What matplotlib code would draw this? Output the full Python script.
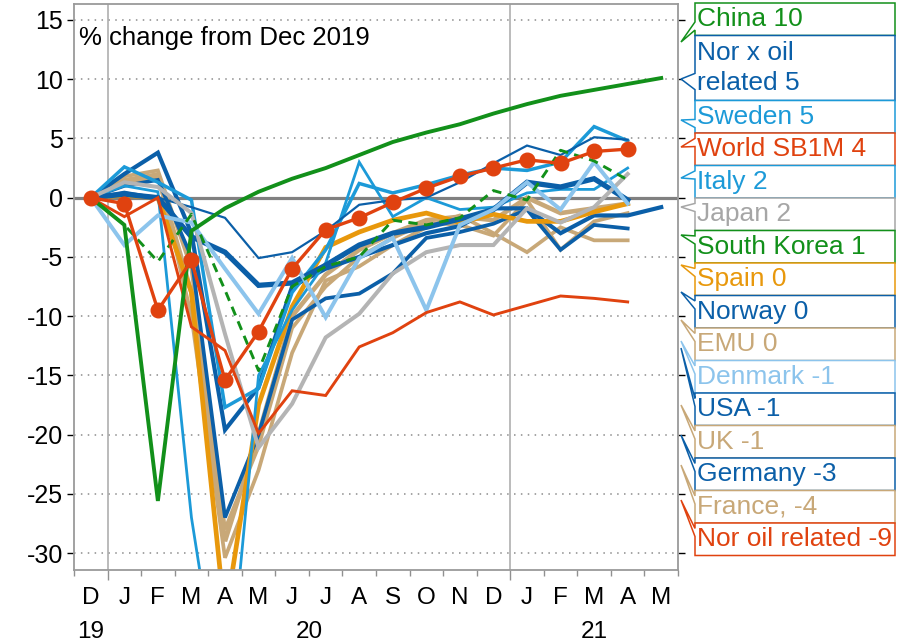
import numpy as np
import matplotlib
matplotlib.use("Agg")
from matplotlib import pyplot as plt
from matplotlib.patches import Polygon
from matplotlib.transforms import Affine2D, blended_transform_factory

plt.rcParams['font.family'] = ['Liberation Sans', 'DejaVu Sans']
plt.rcParams['axes.unicode_minus'] = False

# months from Dec 2019 to May 2021
months = ['D', 'J', 'F', 'M', 'A', 'M', 'J', 'J', 'A', 'S', 'O', 'N', 'D',
          'J', 'F', 'M', 'A', 'M']
years = ['19', '20', '21']
year_centres = [0, 6.5, 15]

# % change from Dec 2019
china = [0, -2.3, -25.6, -2.8, -0.9, 0.5, 1.6, 2.5, 3.6, 4.7, 5.5, 6.2, 7.1, 7.9, 8.6, 9.1, 9.6, 10.1]
nor_x_oil = [0, 0.5, 0.0, -0.8, -1.7, -5.1, -4.6, -2.8, -0.6, -0.2, 0.0, 1.3, 2.9, 4.4, 3.6, 5.1, 4.9]
sweden = [0, 2.6, 1.3, -0.2, -17.7, -16.1, -8.0, -4.4, 1.2, 0.4, 1.1, 1.9, 2.5, 2.3, 3.0, 6.0, 4.8]
world = [0, -0.5, -9.5, -5.3, -15.4, -11.3, -6.0, -2.7, -1.7, -0.4, 0.8, 1.8, 2.5, 3.2, 2.9, 3.9, 4.1]
italy = [0, 1.0, 0.5, -27.0, -45.0, -15.0, -9.5, -5.5, 3.0, -1.6, 0.0, -1.0, -0.8, 0.4, 0.7, 0.7, 2.5]
japan = [0, 1.3, 0.9, -1.3, -11.5, -21.1, -17.4, -11.8, -9.8, -6.4, -4.6, -4.0, -4.0, -0.9, -2.1, -0.8, 2.0]
s_korea = [0, -2.3, -5.4, -1.4, -7.8, -14.6, -7.5, -5.8, -5.0, -1.9, -2.3, -1.7, 0.6, -0.2, 4.0, 3.1, 1.5]
spain = [0, 0.2, 0.0, -8.0, -35.5, -17.5, -9.2, -4.2, -2.9, -1.9, -1.3, -2.1, -1.4, -2.0, -2.0, -1.2, -0.5]
norway = [0, 0.3, 0.0, -3.3, -4.6, -7.4, -7.2, -5.7, -4.0, -3.0, -2.5, -1.8, -1.0, 1.3, 0.9, 1.6, -0.2]
emu = [0, 1.2, 1.8, -8.0, -29.0, -20.0, -10.0, -6.5, -4.4, -3.0, -1.9, -1.6, -1.9, 0.0, -1.3, -0.9, -0.5]
denmark = [0, -4.0, -1.5, -2.1, -6.0, -9.8, -5.1, -10.1, -5.1, -3.4, -9.5, -2.3, -1.0, 1.3, -1.0, 3.0, -0.5]
usa = [0, 2.0, 3.8, -3.0, -19.6, -16.0, -7.5, -6.0, -5.0, -4.0, -3.0, -2.4, -0.9, -0.9, -3.0, -1.5, -1.5, -0.8]
uk = [0, 1.8, 2.3, -6.0, -28.0, -21.0, -11.0, -7.5, -5.0, -3.4, -2.1, -2.3, -3.2, -0.2, -4.4, -2.0, -1.3]
germany = [0, 1.0, 1.5, -5.0, -27.0, -20.0, -10.3, -8.5, -8.1, -6.4, -3.4, -2.9, -2.2, -1.0, -4.4, -2.3, -2.6]
france = [0, 1.5, 2.0, -10.0, -30.4, -23.0, -13.1, -7.0, -5.8, -4.0, -2.5, -1.5, -3.0, -4.6, -2.5, -3.6, -3.6]
nor_oil = [0, -1.6, 0.0, -10.9, -12.9, -19.9, -16.3, -16.7, -12.6, -11.4, -9.7, -8.8, -9.9, -9.1, -8.3, -8.5, -8.8]

GREEN = '#12901a'
DBLUE = '#0b5fa8'
LBLUE = '#1c9ad8'
VLBLUE = '#8cc4ec'
RED = '#e0420f'
ORANGE = '#e8980c'
TAN = '#c8a878'
GREY = '#b4b4b4'

# (series, colour, linewidth, dashed) in drawing order
lines = [
    (france, TAN, 2.7, False),
    (uk, TAN, 2.7, False),
    (emu, TAN, 3.3, False),
    (germany, DBLUE, 2.7, False),
    (usa, DBLUE, 3.0, False),
    (spain, ORANGE, 3.4, False),
    (italy, LBLUE, 2.0, False),
    (sweden, LBLUE, 2.5, False),
    (norway, DBLUE, 3.8, False),
    (nor_x_oil, DBLUE, 1.6, False),
    (japan, GREY, 2.9, False),
    (denmark, VLBLUE, 2.9, False),
    (s_korea, GREEN, 2.1, True),
    (nor_oil, RED, 2.1, False),
    (china, GREEN, 2.8, False),
]

# labels on the right, top to bottom
labels = ['China 10', 'Nor x oil\nrelated 5', 'Sweden 5', 'World SB1M 4', 'Italy 2',
          'Japan 2', 'South Korea 1', 'Spain 0', 'Norway 0', 'EMU 0', 'Denmark -1',
          'USA -1', 'UK -1', 'Germany -3', 'France, -4', 'Nor oil related -9']
label_colours = [GREEN, DBLUE, LBLUE, RED, LBLUE, '#a6a6a6', GREEN, ORANGE, DBLUE,
                 TAN, VLBLUE, DBLUE, TAN, DBLUE, TAN, RED]
label_slots = [1, 2, 1, 1, 1, 1, 1, 1, 1, 1, 1, 1, 1, 1, 1, 1]
tip_px = [42, 79, 120, 147, 178, 207, 235, 265, 292, 320, 341, 348, 405, 435, 465, 500]

W, H = 902, 644
fig = plt.figure(figsize=(W / 100, H / 100), dpi=100)
ax = fig.add_axes([74 / W, 1 - 570 / H, (678 - 74) / W, (570 - 4) / H])

ax.set_xlim(-0.5, len(months) - 0.5)
ax.set_ylim(-31.43, 16.35)

ax.axhline(0, color='#808080', lw=2.3, zorder=1)
for xb in [0.5, 12.5]:
    ax.axvline(xb, color='#a8a8a8', lw=1.1, zorder=1)

for data, col, lw, dashed in lines:
    x = np.arange(len(data))
    if dashed:
        ax.plot(x, data, color=col, lw=lw, dashes=(3.2, 2.2), zorder=2)
    else:
        ax.plot(x, data, color=col, lw=lw, zorder=2, solid_joinstyle='miter')
ax.plot(np.arange(len(world)), world, color=RED, lw=2.4, marker='o', ms=10.5,
        zorder=3)

ax.set_yticks(np.arange(-30, 16, 5))
ax.yaxis.grid(True, linestyle=(0, (1, 3.5)), color='#8c8c8c', lw=1.1)
ax.set_axisbelow(True)
ax.tick_params(axis='y', which='both', direction='out', length=5, width=1,
               color='black', labelsize=18, pad=3, right=True, labelright=False)

# month boundary ticks, longer at year change
ax.set_xticks([0.5, 12.5])
ax.set_xticks(np.arange(-0.5, len(months)), minor=True)
ax.tick_params(axis='x', which='major', length=7, width=1, color='#909090',
               labelbottom=False)
ax.tick_params(axis='x', which='minor', length=4, width=1, color='#909090',
               labelbottom=False)

trans = blended_transform_factory(ax.transData, ax.transAxes)
for i, m in enumerate(months):
    ax.text(i, -0.03, m, transform=trans, ha='center', va='top', fontsize=17.5)
for xc, yr in zip(year_centres, years):
    ax.text(xc, -0.09, yr, transform=trans, ha='center', va='top', fontsize=17.5)

for side in ['left', 'right', 'top', 'bottom']:
    ax.spines[side].set_color('#9a9a9a')
    ax.spines[side].set_linewidth(1.3)

ax.text(0.009, 0.962, '% change from Dec 2019', transform=ax.transAxes,
        ha='left', va='top', fontsize=18.5)

# callout boxes on the right, drawn in pixel space
pix = Affine2D().scale(1 / W, -1 / H).translate(0, 1) + fig.transFigure
left, right = 695, 895
slot_h = 32.5
top = 3.0
for text, col, n, tip in zip(labels, label_colours, label_slots, tip_px):
    bottom = top + slot_h * n
    h = bottom - top
    mid = (top + bottom) / 2
    if tip > mid:
        y1, y2 = top + h * 7 / 12, top + h * 10 / 12
    else:
        y1, y2 = top + h * 2 / 12, top + h * 5 / 12
    pts = [(left, top), (right, top), (right, bottom), (left, bottom),
           (left, y2), (681, tip), (left, y1)]
    fig.add_artist(Polygon(pts, closed=True, transform=pix, facecolor='white',
                           edgecolor=col, lw=1.1, zorder=5))
    fig.text(697, mid, text, transform=pix, ha='left', va='center', color=col,
             fontsize=19, linespacing=1.35, zorder=6)
    top = bottom

fig.savefig('out.png', dpi=100)
